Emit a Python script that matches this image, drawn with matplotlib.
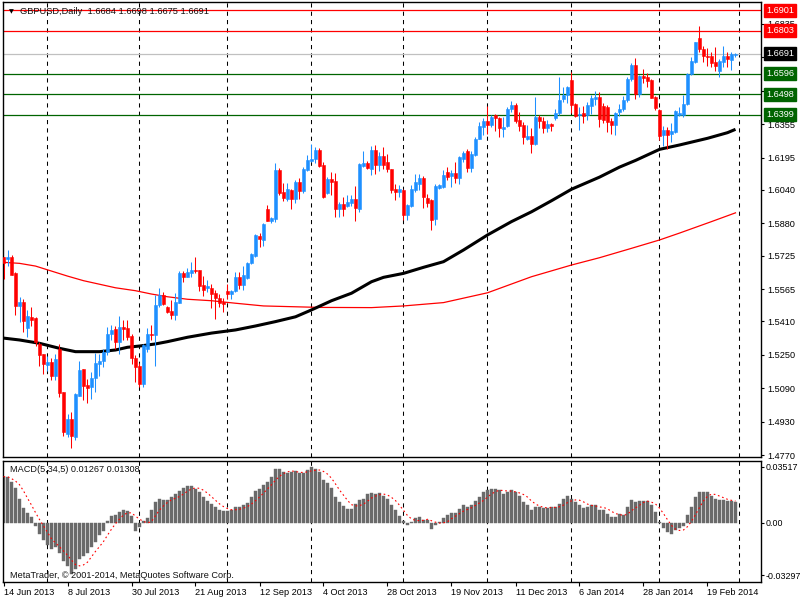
import numpy as np
import pandas as pd
import matplotlib
matplotlib.use('Agg')
import matplotlib.pyplot as plt
from matplotlib.transforms import blended_transform_factory

plt.rcParams['font.family'] = ['Liberation Sans', 'DejaVu Sans']

# ---------------- data (GBPUSD daily) ----------------
opens = [1.5717, 1.5707, 1.5720, 1.5643, 1.5485, 1.5504, 1.5376, 1.5430, 1.5426, 1.5304,
         1.5253, 1.5202, 1.5214, 1.5147, 1.5278, 1.5070, 1.4869, 1.4944, 1.4856, 1.5054,
         1.5181, 1.5104, 1.5096, 1.5141, 1.5208, 1.5221, 1.5264, 1.5352, 1.5374, 1.5312,
         1.5381, 1.5378, 1.5338, 1.5234, 1.5198, 1.5109, 1.5278, 1.5352, 1.5344, 1.5488,
         1.5536, 1.5477, 1.5461, 1.5440, 1.5499, 1.5643, 1.5624, 1.5642, 1.5658, 1.5655,
         1.5583, 1.5572, 1.5572, 1.5546, 1.5524, 1.5503, 1.5554, 1.5540, 1.5556, 1.5623,
         1.5583, 1.5620, 1.5690, 1.5722, 1.5821, 1.5799, 1.5948, 1.5892, 1.5900, 1.6135,
         1.6029, 1.5994, 1.6039, 1.5994, 1.6079, 1.6034, 1.6135, 1.6180, 1.6188, 1.6231,
         1.6159, 1.6023, 1.6092, 1.6082, 1.5948, 1.5972, 1.5962, 1.5978, 1.5996, 1.5948,
         1.6156, 1.6167, 1.6139, 1.6230, 1.6158, 1.6201, 1.6174, 1.6139, 1.6046, 1.6030,
         1.6041, 1.5918, 1.5961, 1.6038, 1.6070, 1.6097, 1.6001, 1.5990, 1.5899, 1.6049,
         1.6054, 1.6126, 1.6105, 1.6121, 1.6099, 1.6190, 1.6225, 1.6147, 1.6206, 1.6286,
         1.6339, 1.6369, 1.6350, 1.6398, 1.6382, 1.6331, 1.6345, 1.6425, 1.6446, 1.6374,
         1.6350, 1.6286, 1.6297, 1.6259, 1.6387, 1.6369, 1.6337, 1.6355, 1.6385, 1.6406,
         1.6473, 1.6494, 1.6566, 1.6451, 1.6398, 1.6406, 1.6398, 1.6441, 1.6475, 1.6483,
         1.6441, 1.6438, 1.6369, 1.6350, 1.6414, 1.6425, 1.6470, 1.6569, 1.6638, 1.6499,
         1.6587, 1.6582, 1.6566, 1.6483, 1.6422, 1.6302, 1.6326, 1.6310, 1.6318, 1.6398,
         1.6398, 1.6449, 1.6595, 1.6654, 1.6766, 1.6715, 1.6683, 1.6683, 1.6651, 1.6611,
         1.6651, 1.6681, 1.6662, 1.6684]
highs = [1.5720, 1.5752, 1.5726, 1.5646, 1.5528, 1.5515, 1.5464, 1.5477, 1.5429, 1.5312,
         1.5256, 1.5243, 1.5237, 1.5256, 1.5301, 1.5072, 1.4965, 1.4976, 1.5067, 1.5221,
         1.5184, 1.5136, 1.5168, 1.5259, 1.5256, 1.5280, 1.5381, 1.5392, 1.5387, 1.5435,
         1.5416, 1.5416, 1.5352, 1.5248, 1.5211, 1.5304, 1.5376, 1.5392, 1.5536, 1.5568,
         1.5552, 1.5483, 1.5512, 1.5547, 1.5653, 1.5653, 1.5664, 1.5695, 1.5719, 1.5658,
         1.5628, 1.5610, 1.5591, 1.5559, 1.5543, 1.5524, 1.5591, 1.5562, 1.5647, 1.5647,
         1.5674, 1.5695, 1.5740, 1.5828, 1.5834, 1.5882, 1.5967, 1.5908, 1.6167, 1.6143,
         1.6071, 1.6071, 1.6045, 1.6087, 1.6098, 1.6148, 1.6207, 1.6260, 1.6244, 1.6239,
         1.6175, 1.6100, 1.6124, 1.6122, 1.5983, 1.6007, 1.6015, 1.6015, 1.6058, 1.6167,
         1.6226, 1.6178, 1.6249, 1.6254, 1.6222, 1.6243, 1.6211, 1.6142, 1.6067, 1.6065,
         1.6043, 1.5974, 1.6065, 1.6115, 1.6115, 1.6105, 1.6022, 1.5998, 1.6067, 1.6067,
         1.6137, 1.6150, 1.6134, 1.6174, 1.6203, 1.6225, 1.6238, 1.6225, 1.6294, 1.6363,
         1.6382, 1.6443, 1.6401, 1.6403, 1.6390, 1.6387, 1.6435, 1.6467, 1.6457, 1.6414,
         1.6363, 1.6350, 1.6334, 1.6486, 1.6398, 1.6390, 1.6374, 1.6361, 1.6425, 1.6579,
         1.6534, 1.6537, 1.6603, 1.6454, 1.6435, 1.6441, 1.6462, 1.6494, 1.6515, 1.6510,
         1.6457, 1.6446, 1.6382, 1.6414, 1.6451, 1.6489, 1.6582, 1.6646, 1.6670, 1.6590,
         1.6617, 1.6598, 1.6569, 1.6489, 1.6425, 1.6345, 1.6339, 1.6358, 1.6422, 1.6438,
         1.6494, 1.6601, 1.6675, 1.6750, 1.6825, 1.6729, 1.6718, 1.6702, 1.6726, 1.6665,
         1.6729, 1.6702, 1.6702, 1.6698]
lows = [1.5611, 1.5675, 1.5630, 1.5440, 1.5408, 1.5360, 1.5336, 1.5387, 1.5291, 1.5195,
        1.5160, 1.5173, 1.5128, 1.5128, 1.5048, 1.4859, 1.4856, 1.4805, 1.4840, 1.5051,
        1.5032, 1.5019, 1.5040, 1.5072, 1.5147, 1.5192, 1.5250, 1.5320, 1.5280, 1.5256,
        1.5320, 1.5323, 1.5205, 1.5120, 1.5096, 1.5096, 1.5264, 1.5323, 1.5195, 1.5480,
        1.5488, 1.5448, 1.5422, 1.5416, 1.5496, 1.5600, 1.5621, 1.5623, 1.5642, 1.5556,
        1.5532, 1.5551, 1.5476, 1.5423, 1.5479, 1.5455, 1.5519, 1.5519, 1.5551, 1.5564,
        1.5562, 1.5615, 1.5687, 1.5719, 1.5767, 1.5772, 1.5892, 1.5882, 1.5887, 1.6015,
        1.5986, 1.5986, 1.5948, 1.5975, 1.5996, 1.6023, 1.6132, 1.6175, 1.6167, 1.6151,
        1.6002, 1.6020, 1.6015, 1.5911, 1.5911, 1.5914, 1.5956, 1.5964, 1.5892, 1.5935,
        1.6151, 1.6138, 1.6110, 1.6118, 1.6129, 1.6142, 1.6126, 1.6025, 1.5990, 1.6006,
        1.5894, 1.5894, 1.5958, 1.6030, 1.6038, 1.5953, 1.5958, 1.5846, 1.5870, 1.6043,
        1.6051, 1.6086, 1.6054, 1.6075, 1.6070, 1.6174, 1.6126, 1.6126, 1.6203, 1.6283,
        1.6302, 1.6310, 1.6342, 1.6323, 1.6294, 1.6294, 1.6342, 1.6414, 1.6361, 1.6321,
        1.6262, 1.6281, 1.6217, 1.6254, 1.6334, 1.6313, 1.6318, 1.6321, 1.6377, 1.6398,
        1.6462, 1.6454, 1.6406, 1.6390, 1.6329, 1.6361, 1.6374, 1.6403, 1.6446, 1.6342,
        1.6358, 1.6318, 1.6310, 1.6302, 1.6393, 1.6419, 1.6462, 1.6563, 1.6475, 1.6486,
        1.6553, 1.6534, 1.6478, 1.6422, 1.6281, 1.6249, 1.6238, 1.6270, 1.6313, 1.6393,
        1.6390, 1.6446, 1.6590, 1.6646, 1.6702, 1.6654, 1.6633, 1.6630, 1.6611, 1.6582,
        1.6630, 1.6630, 1.6614, 1.6675]
closes = [1.5688, 1.5720, 1.5634, 1.5485, 1.5504, 1.5413, 1.5435, 1.5419, 1.5312, 1.5248,
          1.5205, 1.5214, 1.5147, 1.5232, 1.5067, 1.4878, 1.4944, 1.4859, 1.5061, 1.5179,
          1.5099, 1.5091, 1.5141, 1.5211, 1.5222, 1.5264, 1.5352, 1.5371, 1.5312, 1.5381,
          1.5374, 1.5336, 1.5235, 1.5192, 1.5109, 1.5296, 1.5352, 1.5344, 1.5488, 1.5536,
          1.5493, 1.5456, 1.5440, 1.5504, 1.5643, 1.5624, 1.5646, 1.5658, 1.5652, 1.5580,
          1.5559, 1.5580, 1.5543, 1.5522, 1.5498, 1.5495, 1.5540, 1.5554, 1.5623, 1.5583,
          1.5631, 1.5690, 1.5732, 1.5823, 1.5805, 1.5876, 1.5892, 1.5906, 1.6135, 1.6023,
          1.5999, 1.6042, 1.5994, 1.6079, 1.6034, 1.6138, 1.6183, 1.6188, 1.6231, 1.6156,
          1.6007, 1.6090, 1.6079, 1.5948, 1.5972, 1.5948, 1.5983, 1.5996, 1.5954, 1.6164,
          1.6167, 1.6143, 1.6230, 1.6158, 1.6201, 1.6158, 1.6139, 1.6038, 1.6030, 1.6043,
          1.5918, 1.5966, 1.6043, 1.6078, 1.6097, 1.6006, 1.5979, 1.5894, 1.6057, 1.6062,
          1.6110, 1.6102, 1.6121, 1.6099, 1.6198, 1.6217, 1.6147, 1.6211, 1.6286, 1.6345,
          1.6369, 1.6350, 1.6390, 1.6382, 1.6337, 1.6342, 1.6425, 1.6446, 1.6371, 1.6347,
          1.6294, 1.6297, 1.6259, 1.6387, 1.6369, 1.6337, 1.6355, 1.6345, 1.6406, 1.6470,
          1.6494, 1.6534, 1.6446, 1.6393, 1.6403, 1.6395, 1.6446, 1.6478, 1.6483, 1.6379,
          1.6377, 1.6366, 1.6350, 1.6406, 1.6427, 1.6470, 1.6569, 1.6638, 1.6499, 1.6587,
          1.6577, 1.6561, 1.6481, 1.6430, 1.6297, 1.6326, 1.6302, 1.6321, 1.6417, 1.6409,
          1.6451, 1.6595, 1.6657, 1.6747, 1.6713, 1.6683, 1.6678, 1.6649, 1.6635, 1.6657,
          1.6681, 1.6665, 1.6691, 1.6691]

macd_main = [0.0289, 0.0289, 0.0253, 0.0215, 0.0148, 0.0094, 0.0059, 0.0038, -0.0021, -0.0070,
             -0.0110, -0.0140, -0.0165, -0.0150, -0.0190, -0.0240, -0.0275, -0.0320, -0.0290, -0.0230,
             -0.0210, -0.0190, -0.0150, -0.0120, -0.0080, -0.0052, 0.0010, 0.0040, 0.0050, 0.0065,
             0.0080, 0.0075, 0.0040, -0.0055, -0.0030, 0.0010, 0.0030, 0.0080, 0.0130, 0.0146,
             0.0142, 0.0140, 0.0160, 0.0180, 0.0200, 0.0220, 0.0230, 0.0230, 0.0210, 0.0190,
             0.0160, 0.0138, 0.0117, 0.0096, 0.0080, 0.0075, 0.0075, 0.0080, 0.0096, 0.0096,
             0.0110, 0.0125, 0.0160, 0.0200, 0.0210, 0.0236, 0.0257, 0.0290, 0.0340, 0.0336,
             0.0320, 0.0310, 0.0319, 0.0323, 0.0310, 0.0315, 0.0330, 0.0350, 0.0340, 0.0320,
             0.0270, 0.0247, 0.0220, 0.0160, 0.0130, 0.0105, 0.0086, 0.0086, 0.0120, 0.0140,
             0.0150, 0.0180, 0.0185, 0.0180, 0.0185, 0.0170, 0.0150, 0.0110, 0.0080, 0.0040,
             0.0010, -0.0015, 0.0006, 0.0030, 0.0034, 0.0020, 0.0017, -0.0040, -0.0015, 0.0006,
             0.0030, 0.0048, 0.0058, 0.0063, 0.0086, 0.0110, 0.0100, 0.0110, 0.0138, 0.0160,
             0.0190, 0.0205, 0.0210, 0.0210, 0.0205, 0.0180, 0.0190, 0.0205, 0.0190, 0.0170,
             0.0130, 0.0110, 0.0080, 0.0100, 0.0100, 0.0094, 0.0090, 0.0096, 0.0100, 0.0120,
             0.0146, 0.0170, 0.0150, 0.0130, 0.0110, 0.0094, 0.0100, 0.0110, 0.0110, 0.0080,
             0.0080, 0.0054, 0.0033, 0.0038, 0.0054, 0.0048, 0.0096, 0.0140, 0.0128, 0.0136,
             0.0136, 0.0136, 0.0110, 0.0070, 0.0006, -0.0036, -0.0056, -0.0070, -0.0046, -0.0036,
             -0.0020, 0.0048, 0.0100, 0.0160, 0.0190, 0.0190, 0.0190, 0.0167, 0.0150, 0.0140,
             0.0140, 0.0138, 0.0134, 0.0127]

# moving averages, read at sample bars
ma_black_idx = [0, 4, 9, 14, 18, 24, 28, 31, 34, 38, 41, 46, 52, 58, 63, 68, 73, 77, 82, 87,
                92, 95, 100, 105, 110, 115, 121, 127, 132, 137, 142, 149, 154, 158, 164, 169,
                176, 181, 183]
ma_black_val = [1.5330, 1.5321, 1.5305, 1.5281, 1.5265, 1.5265, 1.5273, 1.5286, 1.5292, 1.5302,
                1.5313, 1.5334, 1.5354, 1.5369, 1.5388, 1.5409, 1.5432, 1.5465, 1.5509, 1.5545,
                1.5600, 1.5621, 1.5640, 1.5669, 1.5696, 1.5752, 1.5824, 1.5888, 1.5935, 1.5988,
                1.6043, 1.6101, 1.6149, 1.6181, 1.6234, 1.6255, 1.6287, 1.6314, 1.6330]
ma_red_idx = [0, 4, 8, 12, 16, 20, 24, 28, 33, 37, 41, 46, 52, 58, 65, 73, 79, 92, 100,
              110, 121, 132, 142, 149, 157, 164, 169, 177, 183]
ma_red_val = [1.5693, 1.5688, 1.5675, 1.5651, 1.5627, 1.5605, 1.5588, 1.5571, 1.5557, 1.5541,
              1.5528, 1.5516, 1.5509, 1.5497, 1.5484, 1.5480, 1.5477, 1.5476, 1.5484,
              1.5500, 1.5547, 1.5624, 1.5680, 1.5715, 1.5760, 1.5800, 1.5833, 1.5888, 1.5930]

levels = [1.6901, 1.6803, 1.6691, 1.6596, 1.6498, 1.6399]
level_line_colors = ['#FF0000', '#FF0000', '#C0C0C0', '#006400', '#006400', '#006400']
level_box_colors = ['#FF0000', '#FF0000', '#000000', '#006400', '#006400', '#006400']

price_ticks = [1.4770, 1.4930, 1.5090, 1.5250, 1.5410, 1.5565, 1.5725, 1.5880,
               1.6040, 1.6195, 1.6355, 1.6515, 1.6675, 1.6835]
macd_ticks = [0.03517, 0.0, -0.03297]
macd_tick_labels = ['0.03517', '0.00', '-0.03297']

date_tick_idx = [0, 16, 32, 48, 64, 80, 96, 112, 128, 144, 160, 176]
date_tick_labels = ['14 Jun 2013', '8 Jul 2013', '30 Jul 2013', '21 Aug 2013', '12 Sep 2013',
                    '4 Oct 2013', '28 Oct 2013', '19 Nov 2013', '11 Dec 2013', '6 Jan 2014',
                    '28 Jan 2014', '19 Feb 2014']

# trading calendar (broker skips 25 Dec and 1 Jan), one extra future bar for the grid
bar_dates = [d for d in pd.bdate_range('2013-06-14', '2014-03-03')
             if d.strftime('%m-%d') not in ('12-25', '01-01')]

# ---------------- figure ----------------
W, H = 800, 600
fig = plt.figure(figsize=(8, 6), dpi=100, facecolor='white')

def fx(px):
    return px / W

def fy(py):
    return 1 - py / H

ax = fig.add_axes([fx(2.5), fy(457.3), fx(761 - 2.5), (457.3 - 1.5) / H])
axm = fig.add_axes([fx(2.5), fy(581.7), fx(761 - 2.5), (581.7 - 460.7) / H])

n = len(closes)
idx = np.arange(n)
o = np.array(opens); h = np.array(highs); l = np.array(lows); c = np.array(closes)
bull = c >= o
cols = np.where(bull, '#1E90FF', '#FF0000')

xlim = (-0.25, 189.375)
for a in (ax, axm):
    a.set_xlim(*xlim)
    for s in a.spines.values():
        s.set_color('black')
        s.set_linewidth(1.0)
    a.set_facecolor('white')

ax.set_ylim(1.47590, 1.69423)
axm.set_ylim(-0.03705, 0.03894)

# month grid lines
months = [d.month for d in bar_dates]
grid_idx = [i for i in range(1, len(bar_dates)) if months[i] != months[i - 1]]
for a in (ax, axm):
    for gi in grid_idx:
        a.axvline(gi, color='black', lw=0.75, ls=(0, (4, 4)), zorder=1)

# level lines
for lv, lc in zip(levels, level_line_colors):
    ax.axhline(lv, color=lc, lw=0.9, zorder=1.5)

# moving averages
ax.plot(ma_red_idx, ma_red_val, color='#FF0000', lw=0.9, zorder=2)
ax.plot(ma_black_idx, ma_black_val, color='black', lw=2.2, zorder=2,
        solid_capstyle='butt', solid_joinstyle='round')

# candles
ax.vlines(idx, l, h, colors=cols, lw=0.75, zorder=3)
body_lo = np.minimum(o, c)
body_h = np.abs(c - o)
ax.bar(idx, body_h, bottom=body_lo, width=0.75, color=cols, edgecolor=cols,
       linewidth=0.4, zorder=3)

# axes ticks for main price axis
ax.yaxis.tick_right()
ax.set_yticks(price_ticks)
ax.set_yticklabels(['%.4f' % t for t in price_ticks])
ax.tick_params(axis='y', direction='out', length=2.5, width=0.8, pad=2,
               labelsize=6.6, colors='black')
ax.set_xticks([])

# level labels on the right axis
tr = blended_transform_factory(ax.transAxes, ax.transData)
for lv, bc in zip(levels, level_box_colors):
    ax.text(1.0066, lv, '%.4f' % lv, transform=tr, ha='left', va='center',
            fontsize=6.6, color='white', clip_on=False, zorder=10,
            bbox=dict(boxstyle='square,pad=0.22', fc=bc, ec=bc))

# title
ax.text(fx(6.0) / fx(758.5), 0.978, '\u25bc', transform=ax.transAxes, fontsize=4.5,
        family=['DejaVu Sans'], ha='left', va='center', color='black')
ax.text(fx(17.5) / fx(758.5), 0.978, 'GBPUSD,Daily  1.6684 1.6698 1.6675 1.6691',
        transform=ax.transAxes, fontsize=6.7, ha='left', va='center', color='#111111')

# ---------------- MACD panel ----------------
macd = pd.Series(macd_main)
signal = macd.rolling(5, min_periods=1).mean()
axm.bar(idx, macd.values, width=0.75, color='#6A6A6A', edgecolor='#6A6A6A',
        linewidth=0.3, zorder=2)
axm.plot(idx, signal.values, color='#FF0000', lw=0.8, ls=(0, (1.5, 2.5)), zorder=3)

axm.yaxis.tick_right()
axm.set_yticks(macd_ticks)
axm.set_yticklabels(macd_tick_labels)
axm.tick_params(axis='y', direction='out', length=2.0, width=0.8, pad=1.2,
                labelsize=6.4, colors='black')

axm.set_xticks(date_tick_idx)
axm.set_xticklabels(date_tick_labels)
for lab in axm.get_xticklabels():
    lab.set_horizontalalignment('left')
axm.tick_params(axis='x', direction='out', length=3, width=0.8, pad=1.5,
                labelsize=6.6, colors='black')

axm.text(fx(7) / fx(758.5), 1 - (470 - 460.7) / 121.0, 'MACD(5,34,5) 0.01267 0.01308',
         transform=axm.transAxes, fontsize=6.6, ha='left', va='center', color='#111111')
axm.text(fx(7) / fx(758.5), 1 - (575 - 460.7) / 121.0,
         'MetaTrader, \u00a9 2001-2014, MetaQuotes Software Corp.',
         transform=axm.transAxes, fontsize=6.6, ha='left', va='center', color='#111111')

fig.savefig('out.png', dpi=100, facecolor='white')
